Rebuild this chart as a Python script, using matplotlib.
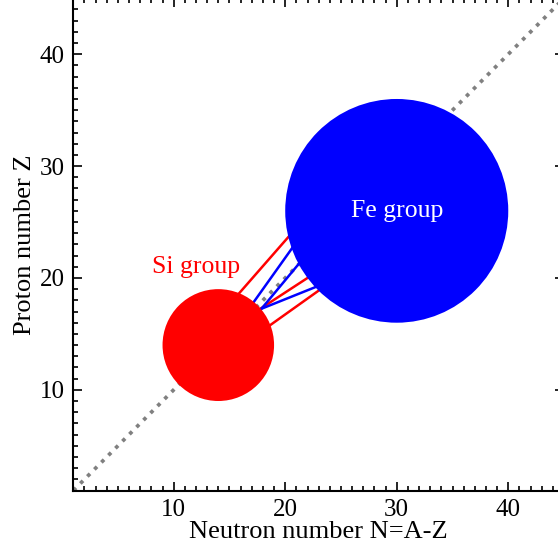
import numpy as np
import matplotlib
matplotlib.use('Agg')
import matplotlib.pyplot as plt
from matplotlib.patches import Circle
from matplotlib.ticker import MultipleLocator

plt.rcParams['font.family'] = ['Liberation Serif', 'DejaVu Serif']

# groups: name, N, Z, radius
group_names = ['Si group', 'Fe group']
group_N = [14, 30]
group_Z = [14, 26]
group_R = [5, 10]
group_colors = ['red', 'blue']
label_N = [12, 30]
label_Z = [21, 26]
label_colors = ['red', 'white']

# connecting lines (N0, Z0, N1, Z1)
red_lines = [(14, 16.5, 24, 27.9),
             (16, 16.1, 26, 22.6),
             (16, 13.9, 26, 21.0)]
blue_lines = [(16, 16.2, 24, 27.4),
              (16, 15.0, 24, 24.6),
              (16, 16.5, 26, 20.5)]

fig = plt.figure(figsize=(5.58, 5.51), dpi=100)
ax = fig.add_axes([0.1314, 0.1098, 0.8794, 0.8933])

diag = np.array([1, 45])
ax.plot(diag, diag, color='gray', lw=2.7, ls=':', zorder=1)

for l in red_lines:
    ax.plot([l[0], l[2]], [l[1], l[3]], color='red', lw=1.8, zorder=2)
for l in blue_lines:
    ax.plot([l[0], l[2]], [l[1], l[3]], color='blue', lw=1.8, zorder=2)

for i in range(len(group_names)):
    ax.add_patch(Circle((group_N[i], group_Z[i]), group_R[i],
                        color=group_colors[i], lw=0, zorder=3))
    ax.text(label_N[i], label_Z[i], group_names[i], color=label_colors[i],
            fontsize=18.5, ha='center', va='center', zorder=4)

ax.set_xlim(1, 45)
ax.set_ylim(1, 45)
ax.xaxis.set_major_locator(MultipleLocator(10))
ax.yaxis.set_major_locator(MultipleLocator(10))
ax.xaxis.set_minor_locator(MultipleLocator(1))
ax.yaxis.set_minor_locator(MultipleLocator(1))
ax.tick_params(which='both', direction='in', top=True, right=True,
               width=1.2, labelsize=18, pad=6)
ax.tick_params(which='major', length=6.5)
ax.tick_params(which='minor', length=3.3)
for s in ax.spines.values():
    s.set_linewidth(1.5)

ax.set_xlabel('Neutron number N=A-Z', fontsize=19, labelpad=0)
ax.set_ylabel('Proton number Z', fontsize=19, labelpad=3)

fig.savefig('out.png', dpi=100)
